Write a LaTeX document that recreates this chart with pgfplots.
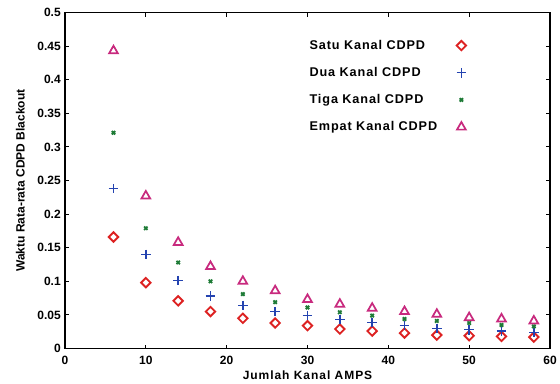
\documentclass[border=0pt]{standalone}
\usepackage{fontspec}
\setmainfont{Liberation Sans}
\usepackage{pgfplots}
\pgfplotsset{compat=1.18}
\definecolor{cred}{HTML}{DD2222}
\definecolor{cblue}{HTML}{2443B0}
\definecolor{cgreen}{HTML}{1E7B36}
\definecolor{cmag}{HTML}{C82A7E}
\begin{document}
\begin{tikzpicture}
\begin{axis}[
  name=ax,
  width=363.75pt, height=252pt, scale only axis,
  xmin=0, xmax=60, ymin=0, ymax=0.5,
  xtick={0,10,...,60},
  xticklabels={0,10,20,30,40,50,60},
  ytick={0,0.05,0.1,0.15,0.2,0.25,0.3,0.35,0.4,0.45,0.5},
  yticklabels={0,0.05,0.1,0.15,0.2,0.25,0.3,0.35,0.4,0.45,0.5},
  tick align=inside,
  ticklabel style={font=\fontsize{9}{10}\selectfont\bfseries},
  yticklabel style={inner sep=0pt, xshift=-3pt},
  xticklabel style={inner sep=0pt, yshift=-5.5pt},
  major tick length=3pt,
  tick style={black, line width=0.8pt},
  axis line style={line width=0.9pt},
  xlabel={\addfontfeature{LetterSpace=8}Jumlah Kanal AMPS},
  ylabel={Waktu Rata-rata CDPD Blackout},
  label style={font=\fontsize{9}{11}\selectfont\bfseries},
  xlabel style={at={(rel axis cs:0.5,0)}, anchor=center, yshift=-20pt},
  ylabel style={at={(rel axis cs:0,0.5)}, anchor=center, yshift=33.5pt},
  legend plot pos=right,
  legend cell align=left,
  legend style={draw=none, fill=none, at={(rel axis cs:0.49,0.935)}, anchor=north west,
    font=\fontsize{9.5}{11}\selectfont\bfseries\addfontfeature{LetterSpace=7},
    row sep=8pt,
    /tikz/every odd column/.append style={column sep=12.5pt}},
]
\addplot[only marks, mark=square, mark size=2.5pt, mark options={rotate=45, draw=cred, line width=1.4pt}, cred] coordinates {
(6,0.166) (10,0.098) (14,0.071) (18,0.055) (22,0.045) (26,0.038) (30,0.034) (34,0.029) (38,0.026) (42,0.023) (46,0.020) (50,0.019) (54,0.018) (58,0.017)};
\addlegendentry{Satu Kanal CDPD}
\addplot[only marks, mark=+, mark size=3.6pt, mark options={draw=cblue, line width=1.1pt}, cblue] coordinates {
(6,0.238) (10,0.140) (14,0.101) (18,0.078) (22,0.064) (26,0.055) (30,0.049) (34,0.043) (38,0.039) (42,0.034) (46,0.030) (50,0.028) (54,0.026) (58,0.024)};
\addlegendentry{Dua Kanal CDPD}
\addplot[only marks, mark=x, mark size=1.8pt, mark options={draw=cgreen, line width=1.4pt}, cgreen] coordinates {
(6,0.321) (10,0.179) (14,0.128) (18,0.100) (22,0.081) (26,0.069) (30,0.061) (34,0.054) (38,0.049) (42,0.044) (46,0.041) (50,0.038) (54,0.035) (58,0.033)};
\addlegendentry{Tiga Kanal CDPD}
\addplot[only marks, mark=triangle, mark size=3.8pt, mark options={draw=cmag, line width=1.3pt}, cmag] coordinates {
(6,0.443) (10,0.227) (14,0.158) (18,0.122) (22,0.100) (26,0.086) (30,0.073) (34,0.066) (38,0.060) (42,0.055) (46,0.051) (50,0.046) (54,0.044) (58,0.041)};
\addlegendentry{Empat Kanal CDPD}
\end{axis}
\pgfresetboundingbox
\path (ax.south west) ++(-48.75pt,-26.6pt) rectangle ([shift={(7.5pt,9.4pt)}]ax.north east);
\end{tikzpicture}
\end{document}
